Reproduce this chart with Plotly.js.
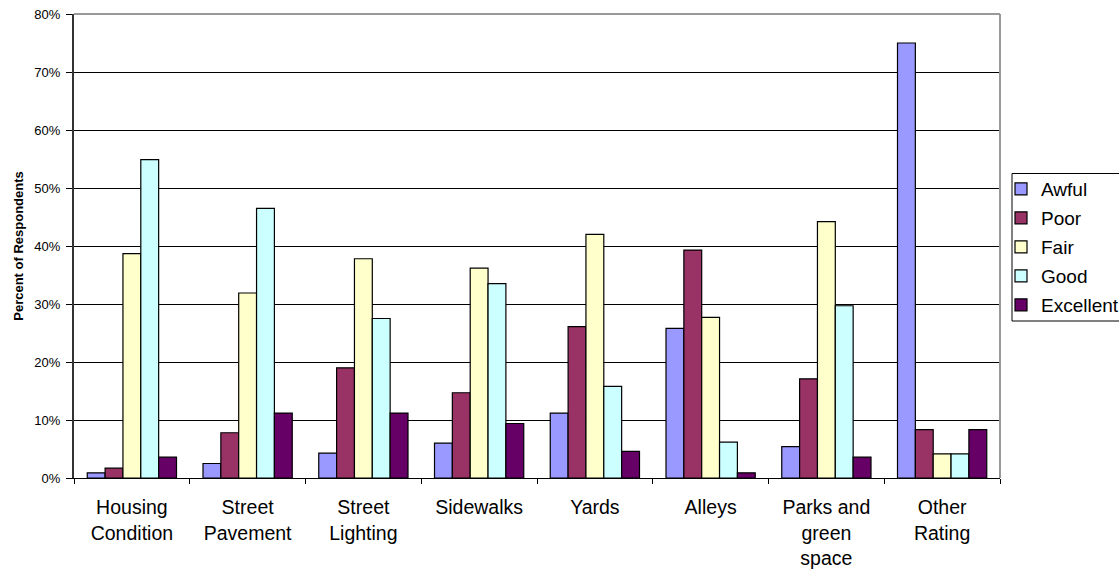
<!DOCTYPE html>
<html>
<head>
<meta charset="utf-8">
<script src="https://cdn.plot.ly/plotly-3.0.1.min.js"></script>
<style>
  html, body { margin: 0; padding: 0; background: #fff; }
  #chart { width: 1119px; height: 569px; }
</style>
</head>
<body>
<div id="chart"></div>
<script>
// Survey categories (x axis)
const categories = [
  "Housing<br>Condition",
  "Street<br>Pavement",
  "Street<br>Lighting",
  "Sidewalks",
  "Yards",
  "Alleys",
  "Parks and<br>green<br>space",
  "Other<br>Rating"
];

// Percent of respondents for each rating
const awful     = [0.9, 2.5, 4.3, 6.0, 11.2, 25.8, 5.4, 75.0];
const poor      = [1.7, 7.8, 19.0, 14.7, 26.1, 39.3, 17.1, 8.33];
const fair      = [38.7, 31.9, 37.8, 36.2, 42.0, 27.7, 44.2, 4.17];
const good      = [54.9, 46.5, 27.5, 33.5, 15.8, 6.2, 29.7, 4.17];
const excellent = [3.6, 11.2, 11.2, 9.4, 4.6, 0.9, 3.6, 8.33];

const seriesNames = ["Awful", "Poor", "Fair", "Good", "Excellent"];
const seriesValues = [awful, poor, fair, good, excellent];
const seriesColors = ["#9999FF", "#993366", "#FFFFCC", "#CCFFFF", "#660066"];

const yTickVals = [0, 10, 20, 30, 40, 50, 60, 70, 80];

const FONT = "Arial, 'Liberation Sans', sans-serif";

const traces = seriesNames.map((name, i) => ({
  type: "bar",
  name: name,
  legendgroup: name,
  x: categories,
  y: seriesValues[i],
  marker: { color: seriesColors[i], line: { color: "#000", width: 1.2 } },
  hoverinfo: "x+y+name"
}));

// Plot area placement in pixels
const W = 1119, H = 569;
const L = 74, R = 1000, T = 14, B = 478;
const px = v => (v - L) / (R - L);
const py = v => (B - v) / (B - T);

const layout = {
  width: W,
  height: H,
  margin: { l: L, r: W - R, t: T, b: H - B, autoexpand: false },
  paper_bgcolor: "#fff",
  plot_bgcolor: "#fff",
  font: { family: FONT, color: "#000" },
  barmode: "group",
  bargap: 0.229,
  bargroupgap: 0,
  showlegend: true,
  legend: {
    x: px(1001), xanchor: "left",
    y: py(170), yanchor: "top",
    bgcolor: "rgba(0,0,0,0)",
    borderwidth: 0,
    font: { family: FONT, size: 19, color: "#000" },
    traceorder: "grouped",
    tracegroupgap: 1.3
  },
  xaxis: {
    type: "category",
    showgrid: false,
    showline: true,
    linecolor: "#000",
    linewidth: 1,
    ticks: "outside",
    tickson: "boundaries",
    ticklen: 5,
    tickcolor: "#000",
    ticklabelstandoff: 12,
    tickfont: { family: FONT, size: 19.5, color: "#000" },
    fixedrange: true
  },
  yaxis: {
    range: [0, 80],
    tickvals: yTickVals,
    ticktext: yTickVals.map(v => v + "%"),
    showgrid: true,
    gridcolor: "#000",
    gridwidth: 1,
    zeroline: false,
    showline: true,
    linecolor: "#333",
    linewidth: 2,
    ticks: "outside",
    ticklen: 6,
    tickcolor: "#000",
    ticklabelstandoff: 3,
    tickfont: { family: FONT, size: 13, color: "#000" },
    title: {
      text: "Percent of Respondents",
      font: { family: FONT, size: 13, color: "#000", weight: "bold" },
      standoff: 8
    },
    fixedrange: true
  },
  shapes: [
    // plot area frame on the top and right sides
    { type: "line", xref: "paper", yref: "paper", x0: 0, x1: 1, y0: 1, y1: 1,
      line: { color: "#999", width: 2 }, layer: "above" },
    { type: "line", xref: "paper", yref: "paper", x0: 1, x1: 1, y0: 0, y1: 1,
      line: { color: "#999", width: 2 }, layer: "above" },
    // legend frame
    { type: "rect", xref: "paper", yref: "paper",
      x0: px(1012), x1: px(1130), y0: py(321), y1: py(173.5),
      line: { color: "#000", width: 1 }, fillcolor: "rgba(0,0,0,0)", layer: "above" }
  ]
};

Plotly.newPlot("chart", traces, layout, { displayModeBar: false, staticPlot: true });
</script>
</body>
</html>
